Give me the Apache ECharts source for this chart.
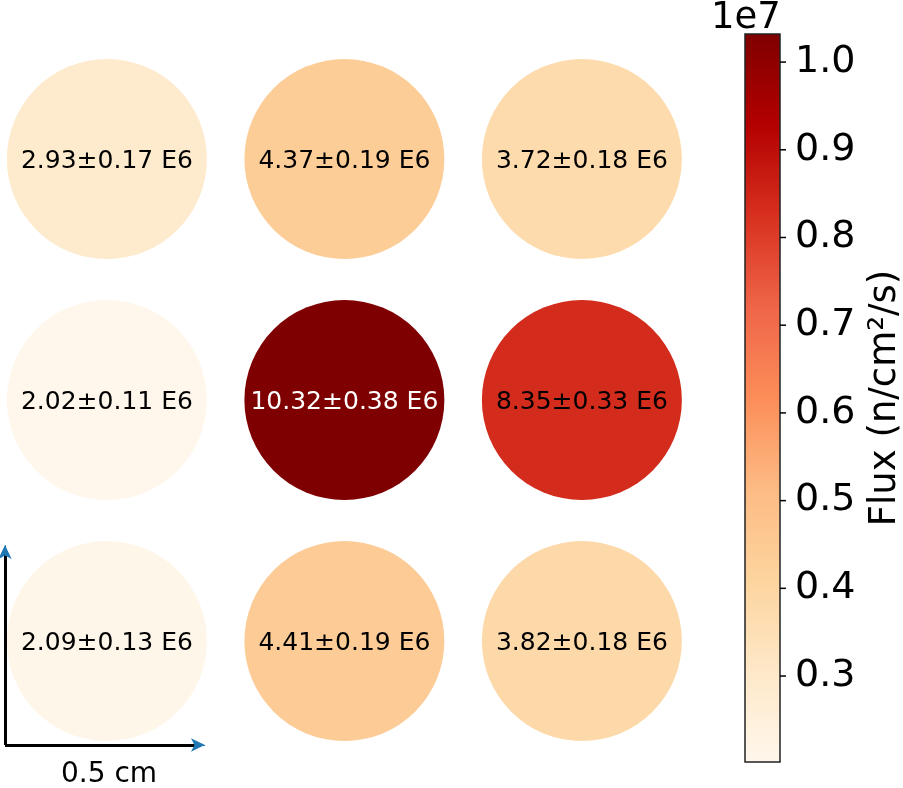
<!DOCTYPE html>
<html>
<head>
<meta charset="utf-8">
<script src="https://cdn.jsdelivr.net/npm/echarts@6/dist/echarts.min.js"></script>
<style>
  html, body { margin: 0; padding: 0; background: #fff; }
  #main { width: 903px; height: 788px; }
</style>
</head>
<body>
<div id="main"></div>
<script>
// 探测器位置（列、行），行 2 为最上面一排
var colPos = [0, 1, 2];
var rowPos = [2, 1, 0];

// 通量 (E6 n/cm2/s)，从上到下每行一组
var fluxRow1 = [2.93, 4.37, 3.72];
var fluxRow2 = [2.02, 10.32, 8.35];
var fluxRow3 = [2.09, 4.41, 3.82];
// 不确定度
var errRow1 = [0.17, 0.19, 0.18];
var errRow2 = [0.11, 0.38, 0.33];
var errRow3 = [0.13, 0.19, 0.18];

// 色标刻度 (1e7)
var cbTicks = [0.3, 0.4, 0.5, 0.6, 0.7, 0.8, 0.9, 1.0];

// OrRd 色带
var orRd = ['#fff7ec', '#fee8c8', '#fdd49e', '#fdbb84', '#fc8d59', '#ef6548', '#d7301f', '#b30000', '#7f0000'];

var fluxRows = [fluxRow1, fluxRow2, fluxRow3];
var errRows = [errRow1, errRow2, errRow3];

var allFlux = fluxRow1.concat(fluxRow2, fluxRow3);
var fMin = Math.min.apply(null, allFlux);
var fMax = Math.max.apply(null, allFlux);

var points = [];
for (var r = 0; r < 3; r++) {
	for (var c = 0; c < 3; c++) {
		var v = fluxRows[r][c];
		points.push({
			value: [colPos[c], rowPos[r], v],
			label: {
				formatter: v.toFixed(2) + '±' + errRows[r][c].toFixed(2) + ' E6',
				color: v > 0.9 * fMax ? '#ffffff' : '#000000'
			}
		});
	}
}

// 色标渐变（自下而上）
var cbStops = [];
for (var i = 0; i < orRd.length; i++) {
	cbStops.push({ offset: 1 - i / (orRd.length - 1), color: orRd[i] });
}

// 色标刻度线
var tickData = cbTicks.map(function(t) { return [1, t]; });

// 比例尺箭头（数据坐标）
var ax0 = -0.429, ay0 = -0.4315, axEnd = 0.413, ayEnd = 0.398;

var font = 'DejaVu Sans';

var option = {
	backgroundColor: '#ffffff',
	animation: false,
	textStyle: { fontFamily: font },
	grid: [{
		left: 0, top: 38.5, width: 712.5, height: 723,
		outerBoundsMode: 'none'
	}, {
		left: 745, top: 34, width: 35, height: 728,
		outerBoundsMode: 'none',
		show: false
	}],
	xAxis: [{
		gridIndex: 0, type: 'value', min: -0.45, max: 2.55, show: false
	}, {
		gridIndex: 1, type: 'value', min: 0, max: 1, show: false
	}],
	yAxis: [{
		gridIndex: 0, type: 'value', min: -0.5, max: 2.5, show: false
	}, {
		gridIndex: 1, type: 'value', position: 'right',
		min: fMin / 10, max: fMax / 10,
		splitLine: { show: false },
		axisLine: { show: false },
		axisTick: { show: false },
		axisLabel: {
			customValues: cbTicks,
			formatter: function(v) { return v.toFixed(1); },
			fontSize: 38, color: '#000', margin: 15, fontFamily: font
		},
		name: 'Flux (n/cm²/s)',
		nameLocation: 'middle',
		nameRotate: 90,
		nameGap: 87,
		nameTextStyle: { fontSize: 37, color: '#000', fontFamily: font }
	}],
	visualMap: {
		type: 'continuous',
		show: false,
		seriesIndex: 0,
		dimension: 2,
		min: fMin,
		max: fMax,
		inRange: { color: orRd }
	},
	graphic: [{
		type: 'rect',
		shape: { x: 745, y: 34, width: 35, height: 728 },
		style: {
			fill: new echarts.graphic.LinearGradient(0, 0, 0, 1, cbStops),
			stroke: '#222',
			lineWidth: 1.5
		},
		z: 5
	}, {
		type: 'text',
		left: 711, top: 0,
		style: { text: '1e7', font: '37px "DejaVu Sans"', fill: '#000' }
	}, {
		type: 'text',
		left: 61, top: 761,
		style: { text: '0.5 cm', font: '28px "DejaVu Sans"', fill: '#000' }
	}],
	series: [{
		type: 'scatter',
		xAxisIndex: 0,
		yAxisIndex: 0,
		symbol: 'circle',
		symbolSize: 200,
		data: points,
		label: {
			show: true,
			position: 'inside',
			offset: [0, 2],
			fontSize: 25,
			fontFamily: font
		},
		itemStyle: { opacity: 1 }
	}, {
		type: 'line',
		xAxisIndex: 0,
		yAxisIndex: 0,
		data: [],
		markLine: {
			silent: true,
			symbol: ['none', 'none'],
			label: { show: false },
			lineStyle: { color: '#000', width: 3, type: 'solid' },
			data: [
				[{ coord: [ax0, ay0] }, { coord: [axEnd - 0.02, ay0] }],
				[{ coord: [ax0, ay0] }, { coord: [ax0, ayEnd - 0.02] }]
			]
		}
	}, {
		// 箭头
		type: 'line',
		xAxisIndex: 0,
		yAxisIndex: 0,
		data: [],
		markLine: {
			silent: true,
			symbol: ['none', 'arrow'],
			symbolSize: [10, 14],
			label: { show: false },
			lineStyle: { color: '#1f77b4', width: 1, type: 'solid' },
			data: [
				[{ coord: [axEnd - 0.03, ay0] }, { coord: [axEnd, ay0] }],
				[{ coord: [ax0, ayEnd - 0.03] }, { coord: [ax0, ayEnd] }]
			]
		}
	}, {
		// 色标刻度线
		type: 'custom',
		xAxisIndex: 1,
		yAxisIndex: 1,
		clip: false,
		silent: true,
		z: 10,
		data: tickData,
		renderItem: function(params, api) {
			var p = api.coord([api.value(0), api.value(1)]);
			return {
				type: 'line',
				shape: { x1: p[0], y1: p[1], x2: p[0] + 6, y2: p[1] },
				style: { stroke: '#000', lineWidth: 1.5 }
			};
		}
	}]
};

echarts.init(document.getElementById('main')).setOption(option);
</script>
</body>
</html>
